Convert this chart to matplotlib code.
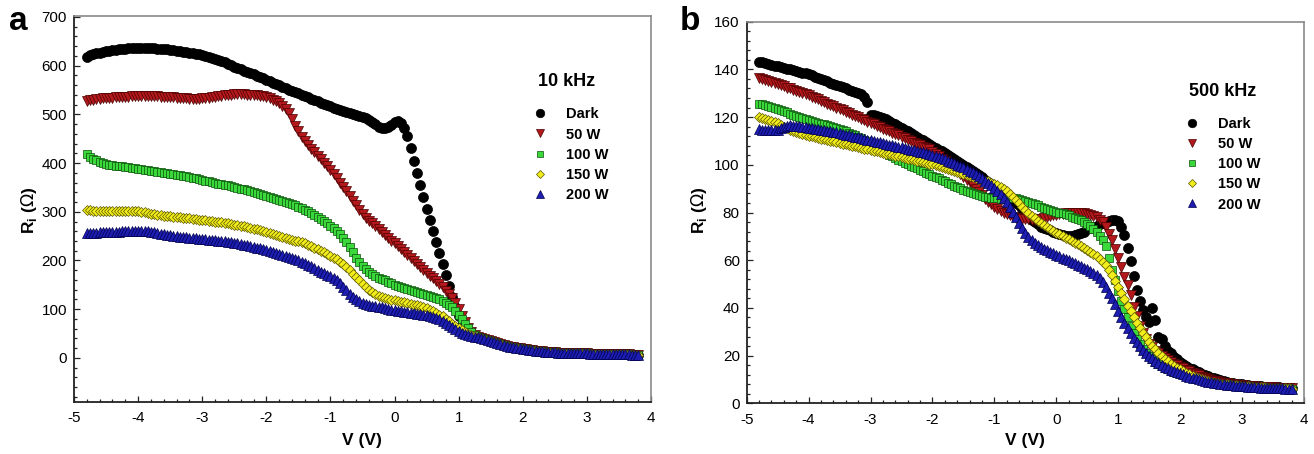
"""
plot.py - impedance R_i vs bias voltage for dark and illuminated samples.

Two panels: 10 kHz (a) and 500 kHz (b). Saves out.png.
"""

import matplotlib
matplotlib.use("Agg")  # no display
import matplotlib.pyplot as plt
import numpy as np
from matplotlib.ticker import MultipleLocator

plt.rcParams["font.family"] = ["Liberation Sans", "DejaVu Sans"]
plt.rcParams["axes.unicode_minus"] = False  # plain hyphen like the original

FIG_W, FIG_H = 1314, 454

# bias sweep, -4.8 V .. 3.8 V in 50 mV steps (173 points)
V = np.round(np.arange(-4.8, 3.8001, 0.05), 2)

LABELS = ["Dark", "50 W", "100 W", "150 W", "200 W"]

# ---------------------------------------------------------------------------
# 10 kHz data (Ohm). Rows: -4.8..-4.05 | -4..-3.05 | ... | 1.0..1.25
# all five curves share the same tail above 1.3 V
# ---------------------------------------------------------------------------

tail_10k = [42, 40, 38, 36, 34, 32, 30, 28, 26, 25, 23, 22, 21, 20,
            19, 18, 17, 16, 15, 15, 14, 13, 13, 12, 12, 11, 11, 11, 10, 10, 10, 9, 9, 9,
            9, 8, 8, 8, 8, 8, 7, 7, 7, 7, 7, 7, 7, 7, 6, 6, 6]

dark_10k = [618, 621, 623, 625, 627, 629, 630, 631, 632, 633, 634, 635, 635, 636, 636, 636,
            636, 636, 636, 636, 636, 636, 635, 635, 634, 634, 633, 632, 631, 630, 629, 628, 627, 626, 624, 623,
            622, 620, 618, 616, 614, 612, 609, 607, 604, 601, 598, 596, 593, 590, 588, 585, 582, 579, 577, 574,
            571, 568, 565, 563, 560, 557, 554, 551, 549, 546, 543, 540, 537, 535, 532, 529, 527, 524, 522, 519,
            517, 514, 512, 510, 507, 505, 503, 501, 499, 497, 495, 492, 489, 485, 480, 475, 472, 472, 474, 479,
            484, 486, 483, 472, 455, 430, 405, 380, 355, 330, 306, 283, 260, 238, 215, 192, 170, 148, 126, 105,
            85, 67, 54, 48, 45, 43] + tail_10k

w50_10k = [528, 529, 530, 531, 532, 533, 533, 534, 534, 535, 535, 536, 536, 536, 537, 537,
           537, 537, 537, 537, 537, 537, 537, 536, 536, 536, 535, 535, 534, 534, 533, 533, 532, 532, 532, 532,
           533, 533, 534, 535, 536, 537, 538, 539, 540, 540, 541, 541, 541, 541, 540, 540, 539, 539, 538, 537,
           535, 533, 530, 527, 523, 518, 512, 502, 490, 477, 465, 454, 445, 437, 429, 422, 415, 408, 401, 393,
           385, 377, 369, 360, 351, 342, 333, 323, 314, 304, 295, 288, 282, 276, 270, 264, 258, 252, 246, 241,
           235, 229, 223, 217, 211, 205, 199, 193, 187, 181, 175, 169, 163, 157, 151, 145, 138, 131, 122, 112,
           100, 87, 74, 62, 53, 46] + tail_10k

w100_10k = [418, 413, 409, 406, 403, 401, 399, 397, 396, 395, 394, 393, 392, 391, 390, 389,
            388, 387, 386, 385, 384, 383, 382, 381, 380, 379, 378, 377, 376, 375, 374, 373, 371, 370, 369, 367,
            366, 364, 363, 361, 360, 358, 357, 355, 354, 352, 351, 349, 347, 346, 344, 342, 341, 339, 337, 335,
            333, 331, 329, 327, 325, 323, 321, 319, 316, 313, 310, 307, 304, 301, 298, 294, 290, 286, 281, 276,
            271, 266, 260, 254, 247, 238, 228, 217, 206, 196, 188, 182, 177, 172, 168, 165, 162, 159, 156, 153,
            150, 148, 146, 144, 142, 140, 138, 136, 134, 132, 130, 128, 125, 123, 120, 117, 113, 109, 104, 97,
            89, 80, 70, 61, 53, 47] + tail_10k

w150_10k = [303, 303, 302, 302, 302, 302, 302, 302, 301, 301, 301, 301, 301, 301, 301, 301,
            301, 300, 299, 298, 296, 295, 294, 293, 292, 292, 291, 290, 290, 289, 288, 287, 287, 286, 285, 284,
            284, 283, 282, 281, 280, 279, 278, 277, 276, 275, 273, 272, 271, 270, 268, 267, 265, 264, 262, 260,
            258, 256, 255, 253, 251, 249, 247, 245, 243, 241, 239, 237, 235, 232, 229, 226, 223, 220, 217, 213,
            210, 206, 202, 197, 192, 186, 180, 173, 166, 159, 152, 146, 140, 135, 131, 128, 125, 123, 121, 119,
            118, 117, 115, 114, 112, 111, 109, 108, 106, 104, 102, 99, 96, 93, 89, 85, 80, 75, 70, 66,
            62, 57, 53, 49, 46, 44] + tail_10k

w200_10k = [256, 256, 257, 257, 258, 258, 258, 259, 259, 259, 259, 260, 260, 260, 260, 260,
            260, 260, 260, 260, 259, 258, 257, 255, 254, 253, 252, 251, 250, 249, 249, 248, 247, 246, 246, 245,
            245, 244, 243, 242, 242, 241, 240, 239, 238, 237, 236, 235, 233, 232, 231, 229, 228, 226, 225, 223,
            222, 220, 218, 216, 214, 212, 210, 207, 205, 202, 200, 197, 194, 191, 188, 184, 180, 177, 174, 171,
            168, 164, 159, 153, 146, 139, 132, 126, 121, 117, 113, 110, 108, 107, 106, 105, 104, 102, 101, 99,
            98, 97, 96, 95, 94, 93, 92, 91, 90, 89, 88, 86, 84, 82, 79, 75, 71, 67, 63, 59,
            55, 52, 49, 47, 45, 43] + tail_10k

# ---------------------------------------------------------------------------
# 500 kHz data (Ohm). Rows: -4.8..-4.05 | -4..-3.05 | ... | 3..3.8
# ---------------------------------------------------------------------------

dark_500k = [143.3, 143.0, 142.6, 142.3, 142.0, 141.6, 141.3, 141.0, 140.6, 140.3, 140.0, 139.6, 139.3, 139.0, 138.6, 138.3,
             138.0, 137.5, 137.0, 136.5, 136.0, 135.5, 135.0, 134.5, 134.0, 133.5, 133.0, 132.5, 132.0, 131.5, 131.0, 130.5, 130.0, 129.5, 128.5, 126.5,
             121.0, 120.8, 120.5, 120.0, 119.5, 119.0, 118.3, 117.6, 116.9, 116.2, 115.5, 114.8, 114.0, 113.3, 112.5, 111.8, 111.0, 110.3, 109.5, 108.8,
             108.0, 107.2, 106.4, 105.6, 104.8, 104.0, 103.2, 102.4, 101.6, 100.8, 100.0, 99.2, 98.3, 97.4, 96.5, 95.6, 94.7, 93.8, 92.9, 92.0,
             91.0, 90.0, 89.0, 88.0, 87.0, 86.0, 85.0, 84.0, 83.0, 81.5, 80.0, 78.5, 77.0, 76.0, 75.0, 74.0, 73.5, 73.0, 72.5, 72.0,
             71.5, 71.0, 70.5, 70.0, 70.0, 70.0, 70.5, 71.0, 71.5, 72.0, 73.0, 73.5, 74.0, 74.5, 75.0, 75.5, 76.0, 76.5, 77.0, 77.0,
             76.5, 74.0, 70.5, 65.0, 59.5, 53.5, 47.5, 43.0, 39.0, 36.0, 34.0, 40.0, 35.0, 28.0, 27.0, 24.0, 22.0, 21.0, 19.5, 18.5,
             17.5, 16.6, 15.8, 15.0, 14.3, 13.6, 13.0, 12.4, 11.8, 11.3, 10.8, 10.4, 10.0, 9.6, 9.3, 9.0, 8.7, 8.5, 8.3, 8.1,
             7.9, 7.7, 7.6, 7.4, 7.3, 7.2, 7.1, 7.0, 6.9, 6.8, 6.8, 6.7, 6.7, 6.6, 6.6, 6.5, 6.5]

w50_500k = [136.5, 136.0, 135.6, 135.1, 134.7, 134.2, 133.8, 133.3, 132.9, 132.4, 132.0, 131.5, 131.1, 130.6, 130.2, 129.7,
            129.2, 128.6, 128.0, 127.5, 126.9, 126.3, 125.7, 125.1, 124.5, 124.0, 123.4, 122.8, 122.2, 121.6, 121.0, 120.4, 119.9, 119.3, 118.7, 118.1,
            117.5, 116.9, 116.3, 115.8, 115.2, 114.6, 114.0, 113.4, 112.9, 112.3, 111.7, 111.1, 110.5, 109.9, 109.3, 108.8, 108.2, 107.6, 107.0, 106.5,
            105.5, 104.5, 103.5, 102.5, 101.5, 100.5, 99.5, 98.4, 97.3, 96.2, 95.0, 93.8, 92.6, 91.3, 90.0, 88.6, 87.2, 85.8, 84.6, 83.5,
            82.5, 81.5, 80.7, 80.0, 79.4, 78.8, 78.3, 77.9, 77.6, 77.4, 77.2, 77.1, 77.0, 77.0, 77.2, 77.4, 77.7, 78.0, 78.4, 78.8,
            79.0, 79.5, 79.5, 80.0, 80.0, 80.0, 80.0, 80.0, 80.0, 80.0, 79.5, 79.0, 78.5, 78.0, 77.0, 76.0, 74.0, 71.0, 68.5, 64.5,
            61.0, 57.0, 53.0, 49.5, 45.5, 40.5, 36.5, 32.5, 29.5, 27.0, 25.0, 23.5, 22.0, 21.0, 20.0, 19.0, 18.0, 17.3, 16.6, 16.0,
            15.3, 14.6, 14.0, 13.4, 12.8, 12.2, 11.7, 11.2, 10.7, 10.3, 9.9, 9.5, 9.2, 8.9, 8.6, 8.4, 8.2, 8.0, 7.8, 7.6,
            7.5, 7.4, 7.3, 7.2, 7.1, 7.0, 6.9, 6.8, 6.8, 6.7, 6.7, 6.6, 6.6, 6.5, 6.5, 6.4, 6.4]

w100_500k = [125.5, 125.3, 125.0, 124.6, 124.2, 123.8, 123.3, 122.8, 122.4, 122.0, 121.5, 121.0, 120.5, 120.0, 119.6, 119.2,
             118.8, 118.4, 118.0, 117.7, 117.3, 117.0, 116.6, 116.2, 115.9, 115.5, 115.0, 114.5, 114.0, 113.5, 113.0, 112.4, 111.8, 111.2, 110.6, 110.0,
             109.0, 108.2, 107.4, 106.6, 105.8, 105.0, 104.3, 103.6, 102.9, 102.2, 101.5, 100.9, 100.3, 99.7, 99.1, 98.5, 97.9, 97.3, 96.7, 96.1,
             95.5, 94.9, 94.3, 93.7, 93.1, 92.5, 91.9, 91.3, 90.7, 90.1, 89.5, 89.0, 88.5, 88.0, 87.6, 87.2, 86.9, 86.6, 86.4, 86.2,
             86.1, 85.9, 85.8, 85.8, 85.9, 86.0, 86.0, 85.9, 85.7, 85.4, 85.0, 84.5, 84.0, 83.5, 83.0, 82.5, 82.0, 81.6, 81.2, 80.8,
             80.4, 80.0, 79.6, 79.2, 78.8, 78.3, 77.8, 77.3, 76.7, 76.0, 75.2, 74.3, 73.2, 71.9, 70.3, 68.5, 66.0, 61.0, 56.0, 51.5,
             47.0, 43.0, 39.5, 36.0, 32.5, 29.5, 27.0, 24.8, 22.9, 21.2, 19.7, 18.4, 17.3, 16.3, 15.5, 14.8, 14.2, 13.6, 13.1, 12.6,
             12.2, 11.8, 11.4, 11.0, 10.6, 10.3, 10.0, 9.7, 9.4, 9.1, 8.9, 8.7, 8.5, 8.3, 8.1, 7.9, 7.7, 7.6, 7.5, 7.4,
             7.3, 7.2, 7.1, 7.0, 6.9, 6.8, 6.7, 6.7, 6.6, 6.6, 6.5, 6.5, 6.4, 6.4, 6.3, 6.3, 6.2]

w150_500k = [120.0, 119.6, 119.2, 118.8, 118.4, 118.0, 117.5, 116.8, 116.0, 115.3, 114.7, 114.2, 113.8, 113.4, 113.0, 112.6,
             112.2, 111.9, 111.6, 111.3, 111.0, 110.7, 110.4, 110.1, 109.8, 109.5, 109.2, 108.9, 108.6, 108.3, 108.0, 107.7, 107.4, 107.1, 106.8, 106.5,
             106.2, 105.9, 105.6, 105.3, 105.0, 104.7, 104.4, 104.1, 103.8, 103.5, 103.2, 102.9, 102.6, 102.3, 102.0, 101.7, 101.4, 101.1, 100.8, 100.5,
             100.2, 99.8, 99.4, 99.0, 98.6, 98.2, 97.8, 97.4, 97.0, 96.6, 96.2, 95.8, 95.4, 95.0, 94.6, 94.2, 93.8, 93.4, 93.0, 92.5,
             92.0, 91.4, 90.7, 89.9, 89.0, 87.9, 86.7, 85.3, 83.9, 82.5, 81.1, 79.8, 78.6, 77.5, 76.5, 75.6, 74.7, 73.9, 73.1, 72.3,
             71.5, 70.8, 70.1, 69.4, 68.7, 68.0, 67.3, 66.6, 65.9, 65.2, 64.4, 63.6, 62.7, 61.8, 60.7, 59.4, 57.8, 55.9, 53.7, 51.3,
             48.8, 46.2, 43.6, 41.0, 38.5, 36.1, 33.8, 31.6, 29.5, 27.6, 25.8, 24.1, 22.6, 21.2, 19.9, 18.7, 17.6, 16.6, 15.7, 14.9,
             14.2, 13.5, 12.8, 12.2, 11.6, 11.1, 10.6, 10.2, 9.8, 9.4, 9.0, 8.7, 8.5, 8.3, 8.1, 7.9, 7.7, 7.6, 7.5, 7.4,
             7.3, 7.2, 7.1, 7.0, 6.9, 6.8, 6.7, 6.7, 6.6, 6.6, 6.5, 6.5, 6.4, 6.4, 6.3, 6.3, 6.2]

w200_500k = [115.0, 114.8, 114.6, 114.5, 114.5, 114.6, 114.8, 115.3, 116.0, 116.4, 116.5, 116.4, 116.3, 116.1, 115.9, 115.7,
             115.5, 115.3, 115.1, 114.9, 114.7, 114.5, 114.3, 114.1, 113.9, 113.6, 113.3, 113.0, 112.7, 112.4, 112.1, 111.8, 111.5, 111.2, 110.9, 110.6,
             110.3, 110.0, 109.7, 109.4, 109.1, 108.8, 108.5, 108.2, 107.9, 107.6, 107.3, 107.0, 106.7, 106.4, 106.1, 105.8, 105.5, 105.2, 104.9, 104.6,
             104.3, 103.8, 103.3, 102.8, 102.3, 101.8, 101.3, 100.7, 100.1, 99.5, 98.9, 98.2, 97.5, 96.8, 96.0, 95.2, 94.3, 93.4, 92.4, 91.4,
             90.3, 89.0, 87.6, 86.0, 84.2, 82.3, 80.2, 78.0, 75.8, 73.5, 71.3, 69.6, 68.3, 67.2, 66.3, 65.5, 64.8, 64.1, 63.5, 62.9,
             62.3, 61.7, 61.1, 60.5, 59.9, 59.3, 58.7, 58.1, 57.5, 56.9, 56.2, 55.5, 54.7, 53.8, 52.5, 50.8, 48.7, 46.4, 44.0, 41.5,
             38.5, 36.0, 33.6, 31.4, 29.4, 27.5, 25.7, 24.0, 22.5, 21.1, 19.9, 18.8, 17.8, 16.9, 16.1, 15.4, 14.7, 14.1, 13.6, 13.1,
             12.6, 12.1, 11.6, 11.2, 10.8, 10.4, 10.0, 9.7, 9.4, 9.1, 8.8, 8.6, 8.4, 8.2, 8.0, 7.8, 7.6, 7.5, 7.4, 7.3,
             7.2, 7.1, 7.0, 6.9, 6.8, 6.7, 6.6, 6.6, 6.5, 6.5, 6.4, 6.4, 6.3, 6.3, 6.2, 6.2, 6.1]

# marker, face colour, edge colour, marker size (pt)
STYLES = [
    ("o", "#000000", "#000000", 7.2),
    ("v", "#b3191c", "#4a0000", 6.6),
    ("s", "#3ad83a", "#0b4d0b", 5.6),
    ("D", "#f2ee1c", "#5a5500", 4.8),
    ("^", "#1d1db0", "#00004d", 6.6),
]


def px(x: float, y: float) -> tuple[float, float]:
    """Pixel position (top-left origin) -> figure fraction."""
    return x / FIG_W, 1 - y / FIG_H


def axes_rect(left: float, top: float, right: float, bottom: float) -> list[float]:
    """Axes rectangle from pixel edges."""
    return [left / FIG_W, 1 - bottom / FIG_H, (right - left) / FIG_W, (bottom - top) / FIG_H]


def draw_panel(ax, curves, ylim, ymajor, yminor, legend_anchor):
    for label, (marker, face, edge, ms), y in zip(LABELS, STYLES, curves):
        ax.plot(V, y, linestyle="none", marker=marker, ms=ms, mfc=face,
                mec=edge, mew=0.5, label=label)

    ax.set_xlim(-5, 4)
    ax.set_ylim(*ylim)
    ax.xaxis.set_major_locator(MultipleLocator(1))
    ax.xaxis.set_minor_locator(MultipleLocator(0.2))
    ax.yaxis.set_major_locator(MultipleLocator(ymajor))
    ax.yaxis.set_minor_locator(MultipleLocator(yminor))
    ax.tick_params(which="both", direction="in", top=False, right=False,
                   labelsize=11, width=0.9, color="#222222")
    ax.tick_params(which="major", length=4.5)
    ax.tick_params(which="minor", length=2.2)
    ax.tick_params(axis="x", pad=7)
    ax.tick_params(axis="y", pad=5)

    for side in ("left", "bottom"):
        ax.spines[side].set_color("#222222")
        ax.spines[side].set_linewidth(1.3)
    for side in ("top", "right"):
        ax.spines[side].set_color("#8a8a8a")
        ax.spines[side].set_linewidth(1.2)

    ax.legend(loc="upper left", bbox_to_anchor=legend_anchor, frameon=False,
              prop={"weight": "bold", "size": 10.5}, handlelength=1.0,
              handletextpad=1.3, labelspacing=0.42, borderpad=0,
              borderaxespad=0, markerscale=0.85)


fig = plt.figure(figsize=(FIG_W / 100, FIG_H / 100), dpi=100)

ax_a = fig.add_axes(axes_rect(74, 16, 651, 401.7))
draw_panel(ax_a, [dark_10k, w50_10k, w100_10k, w150_10k, w200_10k],
           (-90, 702), 100, 20, (0.795, 0.763))

ax_b = fig.add_axes(axes_rect(746.7, 21.7, 1304, 403.3))
draw_panel(ax_b, [dark_500k, w50_500k, w100_500k, w150_500k, w200_500k],
           (0, 160), 20, 4, (0.786, 0.75))

# frequency headers above the legends
fig.text(*px(567, 81), "10 kHz", ha="center", va="center", fontsize=13, fontweight="bold")
fig.text(*px(1223, 91), "500 kHz", ha="center", va="center", fontsize=13, fontweight="bold")

# axis titles
for xc, yl in ((362, 29), (1025, 699)):
    fig.text(*px(xc, 440), "V (V)", ha="center", va="center", fontsize=12.5, fontweight="bold")
    fig.text(*px(yl, 210), r"R$_\mathregular{i}$ ($\Omega$)", ha="center", va="center",
             rotation=90, fontsize=12.5, fontweight="bold")

# panel letters
fig.text(*px(18, 22), "a", ha="center", va="center", fontsize=24, fontweight="bold")
fig.text(*px(690, 22), "b", ha="center", va="center", fontsize=24, fontweight="bold")

fig.savefig("out.png", dpi=100)
plt.close(fig)
